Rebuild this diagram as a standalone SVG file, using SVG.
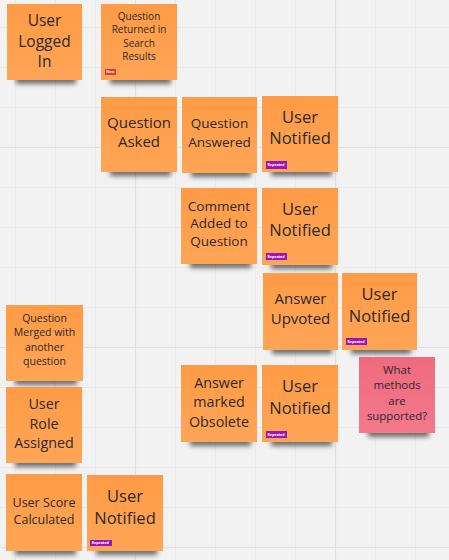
<svg xmlns="http://www.w3.org/2000/svg" width="449" height="560" viewBox="0 0 449 560">
<style>
.bg{fill:#f2f2f2}
.minor{stroke:#e9e9e9;stroke-width:1}
.major{stroke:#e0e0e0;stroke-width:1.2}
.note{fill:url(#og)}
.pink{fill:url(#pg)}
.sh{fill:#000;opacity:.55;filter:url(#blur)}
text{font-family:"Open Sans","Noto Sans","Liberation Sans",sans-serif;fill:#2a2a2a;text-anchor:middle}
.tagr{fill:#e5392c}
.tagp{fill:#9b16b2}
.tt{fill:#fff;font-size:3.6px;font-weight:bold;text-anchor:start}
</style>
<defs>
<linearGradient id="og" x1="0" y1="0" x2="0" y2="1"><stop offset="0" stop-color="#ff9b46"/><stop offset="1" stop-color="#ffa556"/></linearGradient>
<linearGradient id="pg" x1="0" y1="0" x2="0" y2="1"><stop offset="0" stop-color="#f06a7e"/><stop offset="1" stop-color="#f2798b"/></linearGradient>
<filter id="blur" x="-30%" y="-100%" width="160%" height="300%"><feGaussianBlur stdDeviation="2.6"/></filter>
</defs>
<rect class="bg" x="0" y="0" width="449" height="560"/>
<g id="grid">
<path class="minor" d="M15.5 0V560M55.5 0V560M95.5 0V560M175.5 0V560M215.5 0V560M255.5 0V560M295.5 0V560M375.5 0V560M415.5 0V560M0 27.5H449M0 67.5H449M0 107.5H449M0 187.5H449M0 227.5H449M0 267.5H449M0 307.5H449M0 387.5H449M0 427.5H449M0 467.5H449M0 507.5H449"/>
<path class="major" d="M135.5 0V560M335.5 0V560M0 147.5H449M0 347.5H449M0 547.5H449"/>
</g>

<g id="user-logged-in">
<rect class="sh" x="16" y="68" width="60" height="16"/>
<rect class="note" x="7" y="4" width="75" height="76"/>
<text font-size="15.5"><tspan x="44.5" y="26">User</tspan><tspan x="44.5" y="46.5">Logged</tspan><tspan x="44.5" y="67">In</tspan></text>
</g>

<g id="question-returned">
<rect class="sh" x="110" y="68" width="61" height="16"/>
<rect class="note" x="101" y="4" width="76" height="76"/>
<text font-size="10"><tspan x="139" y="19.5">Question</tspan><tspan x="139" y="33">Returned in</tspan><tspan x="139" y="46.5">Search</tspan><tspan x="139" y="60">Results</tspan></text>
<rect class="tagr" x="105" y="69" width="11" height="6"/>
<text class="tt" x="106.2" y="73.3">New</text>
</g>

<g id="question-asked">
<rect class="sh" x="110" y="160" width="61" height="16"/>
<rect class="note" x="101" y="97" width="76" height="75"/>
<text font-size="15"><tspan x="139" y="127.5">Question</tspan><tspan x="139" y="146.5">Asked</tspan></text>
</g>

<g id="question-answered">
<rect class="sh" x="191" y="161" width="60" height="16"/>
<rect class="note" x="182" y="97" width="75" height="76"/>
<text font-size="13.5"><tspan x="219.5" y="128">Question</tspan><tspan x="219.5" y="146.5">Answered</tspan></text>
</g>

<g id="user-notified-1">
<rect class="sh" x="271" y="160" width="61" height="16"/>
<rect class="note" x="262" y="96" width="76" height="76"/>
<text font-size="16.5"><tspan x="300" y="122.5">User</tspan><tspan x="300" y="144">Notified</tspan></text>
<rect class="tagp" x="266" y="161" width="21" height="8"/>
<text class="tt" x="267.5" y="166.2">Repeated</text>
</g>

<g id="comment-added">
<rect class="sh" x="190" y="252" width="61" height="16"/>
<rect class="note" x="181" y="188" width="76" height="76"/>
<text font-size="13.5"><tspan x="219" y="210.5">Comment</tspan><tspan x="219" y="228.3">Added to</tspan><tspan x="219" y="246">Question</tspan></text>
</g>

<g id="user-notified-2">
<rect class="sh" x="271" y="253" width="61" height="16"/>
<rect class="note" x="262" y="188" width="76" height="77"/>
<text font-size="16.5"><tspan x="300" y="215">User</tspan><tspan x="300" y="236">Notified</tspan></text>
<rect class="tagp" x="266" y="253" width="21" height="7"/>
<text class="tt" x="267.5" y="257.8">Repeated</text>
</g>

<g id="answer-upvoted">
<rect class="sh" x="272" y="338" width="60" height="16"/>
<rect class="note" x="263" y="273" width="75" height="77"/>
<text font-size="15"><tspan x="300.5" y="304">Answer</tspan><tspan x="300.5" y="324">Upvoted</tspan></text>
</g>

<g id="user-notified-3">
<rect class="sh" x="351" y="338" width="60" height="16"/>
<rect class="note" x="342" y="273" width="75" height="77"/>
<text font-size="16.5"><tspan x="379.5" y="300">User</tspan><tspan x="379.5" y="321.5">Notified</tspan></text>
<rect class="tagp" x="346" y="338" width="21" height="7"/>
<text class="tt" x="347.5" y="342.8">Repeated</text>
</g>

<g id="question-merged">
<rect class="sh" x="15" y="369" width="62" height="16"/>
<rect class="note" x="6" y="305" width="77" height="76"/>
<text font-size="10.5"><tspan x="44.5" y="321.5">Question</tspan><tspan x="44.5" y="336">Merged with</tspan><tspan x="44.5" y="350.5">another</tspan><tspan x="44.5" y="365">question</tspan></text>
</g>

<g id="what-methods">
<rect class="sh" x="368" y="421" width="61" height="16"/>
<rect class="pink" x="359" y="357" width="76" height="76"/>
<text font-size="11.4"><tspan x="397" y="373.5">What</tspan><tspan x="397" y="389">methods</tspan><tspan x="397" y="404.5">are</tspan><tspan x="397" y="420">supported?</tspan></text>
</g>

<g id="answer-obsolete">
<rect class="sh" x="190" y="430" width="61" height="16"/>
<rect class="note" x="181" y="365" width="76" height="77"/>
<text font-size="14.3"><tspan x="219" y="387.5">Answer</tspan><tspan x="219" y="407">marked</tspan><tspan x="219" y="426.5">Obsolete</tspan></text>
</g>

<g id="user-notified-4">
<rect class="sh" x="271" y="430" width="61" height="16"/>
<rect class="note" x="262" y="365" width="76" height="77"/>
<text font-size="16.5"><tspan x="300" y="392">User</tspan><tspan x="300" y="414">Notified</tspan></text>
<rect class="tagp" x="266" y="431" width="21" height="7"/>
<text class="tt" x="267.5" y="435.8">Repeated</text>
</g>

<g id="user-role-assigned">
<rect class="sh" x="15" y="451" width="61" height="16"/>
<rect class="note" x="6" y="387" width="76" height="76"/>
<text font-size="14.3"><tspan x="44" y="409">User</tspan><tspan x="44" y="429">Role</tspan><tspan x="44" y="448">Assigned</tspan></text>
</g>

<g id="user-score-calculated">
<rect class="sh" x="15" y="539" width="61" height="16"/>
<rect class="note" x="6" y="474" width="76" height="77"/>
<text font-size="12.5"><tspan x="44" y="507">User Score</tspan><tspan x="44" y="523.5">Calculated</tspan></text>
</g>

<g id="user-notified-5">
<rect class="sh" x="96" y="539" width="61" height="16"/>
<rect class="note" x="87" y="475" width="76" height="76"/>
<text font-size="16.5"><tspan x="125" y="502">User</tspan><tspan x="125" y="523.5">Notified</tspan></text>
<rect class="tagp" x="90" y="540" width="22" height="6"/>
<text class="tt" x="91.8" y="544.2">Repeated</text>
</g>
</svg>
